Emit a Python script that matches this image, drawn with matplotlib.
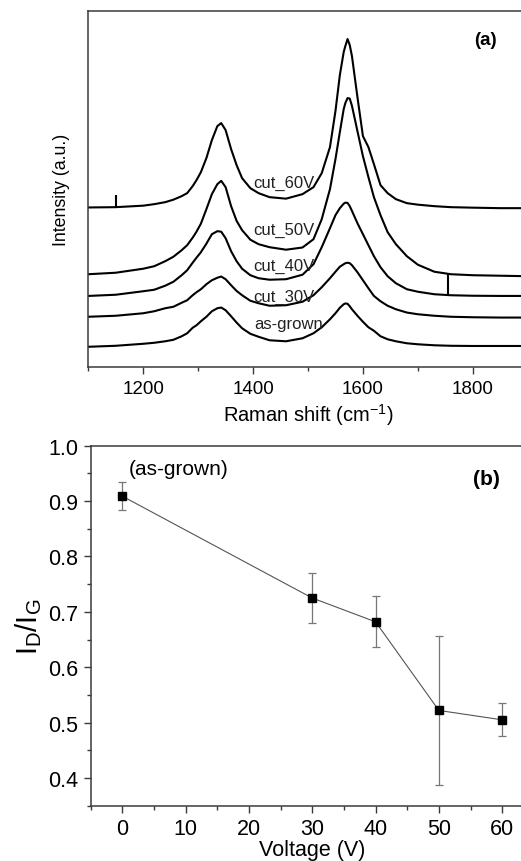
import matplotlib
matplotlib.use("Agg")
import matplotlib.pyplot as plt
from matplotlib.ticker import MultipleLocator

plt.rcParams['font.family'] = ['Liberation Sans', 'DejaVu Sans']
plt.rcParams['mathtext.fontset'] = 'custom'
plt.rcParams['mathtext.rm'] = 'Liberation Sans'

# (a) Raman spectra, intensity in arbitrary units (already stacked)
shift = [1100, 1150, 1200, 1220, 1240, 1255, 1270, 1280, 1290, 1297,
         1305, 1315, 1325, 1335, 1342, 1350, 1360, 1370, 1380, 1395,
         1410, 1430, 1460, 1490, 1510, 1525, 1540, 1550, 1558, 1565,
         1568, 1572, 1576, 1580, 1590, 1600, 1610, 1620, 1632, 1645,
         1660, 1680, 1700, 1730, 1760, 1800, 1850, 1900]
cut_60V = [159.7, 160, 161.5, 163, 165, 167.5, 171, 174, 181, 187,
           195, 209, 227, 241, 244, 237, 218, 202, 189, 179,
           174, 170, 168.5, 173, 180, 194, 220, 256, 292, 315,
           321, 328, 322, 311, 270, 231, 220, 203, 182, 174,
           168, 164, 162.5, 161, 160, 159.5, 159, 159]
cut_50V = [93, 94.5, 98.5, 101, 106, 110.5, 117, 122, 129.5, 135.5,
           143.5, 158, 173, 183, 186.3, 180, 161, 146.3, 137, 127.5,
           123, 120, 117.5, 119.7, 128, 148, 178, 208, 235, 258,
           264, 269, 268.5, 261.3, 236, 211, 190, 170, 152, 135,
           123, 111, 102.5, 95.5, 93, 92, 91.5, 91]
cut_40V = [71.3, 72.5, 76, 77.5, 81.5, 85.5, 92, 97, 104.5, 109.5,
           115, 123.5, 133, 136, 135.5, 129, 116, 106, 98.5, 92,
           89, 87.5, 88, 92.5, 103, 120, 139, 152, 159, 163.5,
           164.5, 164.3, 161, 156.3, 144, 133, 122, 111, 100, 91,
           84, 78, 75.5, 73, 72, 71.5, 71.3, 71.3]
cut_30V = [50.5, 51.5, 54, 56, 59, 60.5, 64.5, 67, 72, 75,
           78, 83, 87, 89.5, 90.7, 88, 82, 76.3, 72, 66.5,
           64, 61.5, 62, 65.5, 72, 80, 89, 95.5, 100.5, 103,
           104, 104.5, 104, 102, 95, 87, 79, 71.3, 66, 61.5,
           58, 54.7, 53, 51.5, 50.5, 50, 49.7, 49.7]
as_grown = [20.5, 21.5, 23.5, 24.5, 26, 27.5, 31, 34, 39.5, 42,
            46, 50.5, 56, 59, 59.7, 57, 51, 44.7, 39, 33.5,
            30.5, 27, 26, 29, 34, 40, 48, 54, 59.5, 63,
            63.8, 63.5, 61, 58, 51.5, 45.5, 40, 36.5, 31, 28,
            26, 24, 23, 22, 21.5, 21.3, 21.3, 21.3]
spectra_names = ['cut_60V', 'cut_50V', 'cut_40V', 'cut_30V', 'as-grown']
label_x = [1456, 1456, 1456, 1456, 1465]
label_y = [184.7, 138, 101.3, 70.7, 44]

# cosmic-ray spikes
spike_x = [1150, 1755]
spike_lo = [160, 72]
spike_hi = [172, 93]

# (b) ID/IG vs cutting voltage
voltage = [0, 30, 40, 50, 60]
ratio = [0.909, 0.725, 0.682, 0.522, 0.505]
ratio_err = [0.025, 0.046, 0.046, 0.135, 0.030]

W, H = 521, 862
fig = plt.figure(figsize=(W / 100, H / 100), dpi=100)

spine_col = '#3a3a3a'

# ---------- panel (a)
ax1 = fig.add_axes([88.3 / W, 1 - 368.3 / H, (527.7 - 88.3) / W, 356.3 / H])
for y in [cut_60V, cut_50V, cut_40V, cut_30V, as_grown]:
    ax1.plot(shift, y, color='black', lw=1.5)
ax1.vlines(spike_x, spike_lo, spike_hi, color='black', lw=1.5)
for name, lx, ly in zip(spectra_names, label_x, label_y):
    ax1.text(lx, ly, name, ha='center', va='center', fontsize=12, color='#222222')
ax1.text(0.903, 0.921, '(a)', transform=ax1.transAxes, ha='center', va='center',
         fontsize=13.5, fontweight='bold')
ax1.set_xlim(1100, 1900)
ax1.set_ylim(0, 356)
ax1.xaxis.set_major_locator(MultipleLocator(200))
ax1.xaxis.set_minor_locator(MultipleLocator(100))
ax1.set_yticks([])
ax1.tick_params(axis='x', which='major', direction='out', length=5, width=1,
                labelsize=13.5, pad=4, color=spine_col)
ax1.tick_params(axis='x', which='minor', direction='out', length=3, width=1, color=spine_col)
ax1.set_xlabel('Raman shift (cm$^{-1}$)', fontsize=14.5, labelpad=3)
ax1.set_ylabel('Intensity (a.u.)', fontsize=12.8, labelpad=13)

# ---------- panel (b)
ax2 = fig.add_axes([90.5 / W, 1 - 806.7 / H, (533.9 - 90.5) / W, 360 / H])
ax2.plot(voltage, ratio, color='#555555', lw=0.8, zorder=2)
ax2.errorbar(voltage, ratio, yerr=ratio_err, fmt='none', ecolor='#777777',
             elinewidth=0.9, capsize=3, capthick=0.9, zorder=1)
ax2.plot(voltage, ratio, ls='none', marker='s', ms=6.2, color='black', zorder=3)
ax2.text(8.9, 0.958, '(as-grown)', ha='center', va='center', fontsize=15)
ax2.text(0.894, 0.910, '(b)', transform=ax2.transAxes, ha='center', va='center',
         fontsize=15, fontweight='bold')
ax2.set_xlim(-5, 65)
ax2.set_ylim(0.35, 1.0)
ax2.xaxis.set_major_locator(MultipleLocator(10))
ax2.xaxis.set_minor_locator(MultipleLocator(5))
ax2.yaxis.set_major_locator(MultipleLocator(0.1))
ax2.yaxis.set_minor_locator(MultipleLocator(0.05))
ax2.tick_params(which='major', direction='out', length=5, width=1, labelsize=15.5,
                pad=4, color=spine_col)
ax2.tick_params(which='minor', direction='out', length=3, width=1, color=spine_col)
ax2.set_xlabel('Voltage (V)', fontsize=15.5, labelpad=0)
ax2.set_ylabel(r'$\mathregular{I_D/I_G}$', fontsize=21, labelpad=3)

for ax in (ax1, ax2):
    for sp in ax.spines.values():
        sp.set_color(spine_col)
        sp.set_linewidth(1.1)

fig.savefig('out.png', dpi=100)
